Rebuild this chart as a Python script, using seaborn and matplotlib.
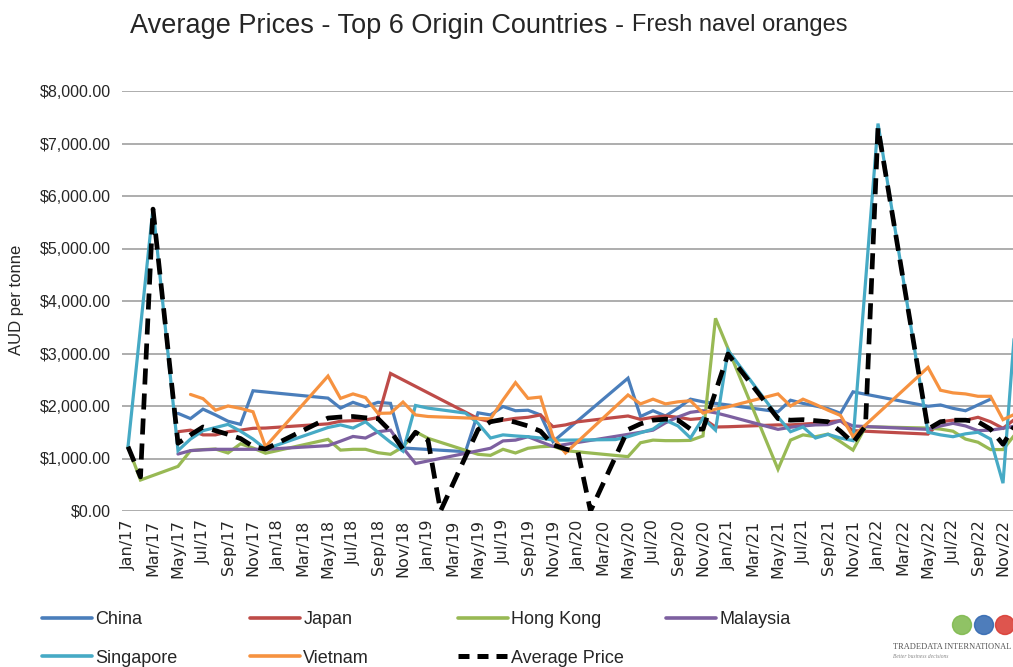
import numpy as np
import pandas as pd
import matplotlib
matplotlib.use("Agg")
import matplotlib.pyplot as plt
import seaborn as sns
from matplotlib.ticker import FuncFormatter, MultipleLocator
from matplotlib.lines import Line2D
from matplotlib.patches import Ellipse

N = np.nan
month_names = ["Jan", "Feb", "Mar", "Apr", "May", "Jun",
               "Jul", "Aug", "Sep", "Oct", "Nov", "Dec"]
years = ["17", "18", "19", "20", "21", "22"]
months = [f"{m}/{y}" for y in years for m in month_names]

china = [
    N, N, N, N, 1860, 1760, 1940, 1830, 1710, 1650, 2290, N,
    N, N, N, N, 2150, 1960, 2070, 1990, 2070, 2050, 1200, N,
    N, N, N, 1130, 1870, 1830, 1990, 1910, 1920, 1830, 1320, N,
    N, N, N, N, 2530, 1800, 1910, 1810, 1960, 2130, 2080, 2050,
    2020, N, N, N, 1890, 2110, 2050, 2000, 1950, 1860, 2270, N,
    N, N, N, N, 1995, 2020, 1955, 1910, 2020, 2130, N, N]
japan = [
    N, N, N, N, 1510, 1540, 1450, 1450, 1510, 1540, 1575, 1580,
    N, N, N, N, 1660, 1710, 1720, 1735, 1780, 2620, N, N,
    N, N, N, N, 1760, 1700, 1730, 1765, 1785, 1830, 1605, 1640,
    1700, N, N, N, 1810, 1745, 1785, 1810, 1785, 1745, 1765, 1600,
    1605, N, N, N, 1640, 1640, 1655, 1670, 1700, 1720, 1530, N,
    N, N, N, N, 1465, 1700, 1730, 1730, 1785, 1700, 1575, 1760]
hong_kong = [
    1225, 590, N, N, 850, 1150, 1170, 1180, 1105, 1280, 1200, 1100,
    N, N, N, N, 1365, 1160, 1175, 1175, 1110, 1080, 1220, 1510,
    1385, N, N, N, 1080, 1060, 1175, 1105, 1195, 1225, 1235, 1150,
    N, N, N, N, 1035, 1300, 1350, 1340, 1340, 1345, 1430, 3670,
    N, N, N, N, 795, 1350, 1450, 1415, 1465, 1320, 1160, 1605,
    N, N, N, N, 1580, 1560, 1520, 1370, 1310, 1170, 1170, 1470]
malaysia = [
    N, N, N, N, 1085, 1150, 1165, 1175, 1175, 1175, 1175, 1175,
    N, N, N, N, 1245, 1330, 1420, 1390, 1510, 1540, 1200, 905,
    N, N, N, N, N, 1195, 1335, 1350, 1415, 1320, 1230, N,
    N, N, N, N, 1460, N, 1540, 1680, 1790, 1880, 1910, 1870,
    1810, N, N, N, 1555, 1595, 1620, 1640, 1645, 1720, 1620, N,
    N, N, N, N, 1555, 1620, 1670, 1620, 1530, 1540, 1575, 1620]
singapore = [
    1225, N, 5770, N, 1150, 1370, 1530, 1590, 1650, 1520, 1370, 1180,
    N, N, N, N, 1590, 1640, 1580, 1700, 1500, 1310, 1140, 2010,
    1960, N, N, 1865, 1670, 1390, 1450, 1430, 1415, 1390, 1350, 1350,
    N, N, N, 1360, 1415, 1490, 1560, 1730, 1620, 1390, 1770, 1540,
    3060, N, N, N, 1790, 1510, 1600, 1390, 1460, 1390, 1340, N,
    7380, N, N, N, 1500, 1450, 1415, 1470, 1500, 1370, 530, 3650]
vietnam = [
    N, N, N, N, N, 2220, 2140, 1920, 2000, 1955, 1890, 1225,
    N, N, N, N, 2570, 2145, 2230, 2160, 1860, 1865, 2075, 1830,
    1800, N, N, N, N, 1755, 2115, 2445, 2145, 2170, 1410, 1105,
    N, N, N, N, 2210, 2040, 2130, 2040, 2080, 2100, 1865, 1940,
    1985, N, N, N, 2230, 2000, 2130, 2030, 1920, 1820, 1420, N,
    N, N, N, N, 2735, 2300, 2250, 2230, 2185, 2185, 1740, 1850]
average = [
    1225, 650, 5750, N, 1290, 1450, 1600, 1530, 1460, 1380, 1230, 1180,
    N, N, N, N, 1770, 1790, 1800, 1775, 1760, 1520, 1180, 1500,
    1350, 0, N, N, 1550, 1700, 1745, 1690, 1620, 1520, 1260, 1180,
    1120, 0, N, N, 1550, 1660, 1730, 1750, 1730, 1560, 1560, 2270,
    2990, N, N, N, 1760, 1730, 1740, 1720, 1700, 1520, 1300, 1620,
    7300, N, N, N, 1560, 1700, 1730, 1730, 1700, 1560, 1270, 1650]

series_names = ["China", "Japan", "Hong Kong", "Malaysia", "Singapore", "Vietnam"]
series_values = [china, japan, hong_kong, malaysia, singapore, vietnam]
colors = ["#4A7EBB", "#BE4B48", "#98B954", "#7D60A0", "#46AAC5", "#F69240"]

W, H = 1013, 667
sns.set_theme(style="white")
plt.rcParams["font.family"] = ["Liberation Sans", "DejaVu Sans"]

fig = plt.figure(figsize=(W / 100, H / 100), dpi=100)
ax = fig.add_axes([121.7 / W, 1 - 511 / H, (W - 121.7) / W, 420 / H])

idx = np.arange(len(months))
for name, vals, col in zip(series_names, series_values, colors):
    df = pd.DataFrame({"m": idx, "v": vals}).dropna()
    sns.lineplot(data=df, x="m", y="v", color=col, lw=2.3, ax=ax,
                 estimator=None, sort=True, solid_joinstyle="miter")
dfa = pd.DataFrame({"m": idx, "v": average}).dropna()
sns.lineplot(data=dfa, x="m", y="v", color="black", lw=3.4, ax=ax,
             estimator=None, sort=True, dashes=False)
ax.lines[-1].set_linestyle((0, (3.4, 1.9)))

ax.set_xlim(-0.504, 70.8)
ax.set_ylim(0, 8000)
ax.yaxis.set_major_locator(MultipleLocator(1000))
ax.yaxis.set_major_formatter(FuncFormatter(lambda v, p: f"${v:,.2f}"))
ax.set_xticks(idx[::2])
ax.set_xticklabels(months[::2], rotation=90, fontsize=11.5,
                   family="DejaVu Sans")
ax.tick_params(axis="y", labelsize=11.5, length=0, pad=8)
ax.tick_params(axis="x", length=0, pad=6)
ax.grid(axis="y", color="#A0A0A0", lw=1.2)
ax.grid(axis="x", visible=False)
for s in ax.spines.values():
    s.set_visible(False)
ax.set_xlabel("")
ax.set_ylabel("")

fig.text(17 / W, 1 - 300 / H, "AUD per tonne", rotation=90, ha="center",
         va="center", fontsize=12)

# title
fig.canvas.draw()
r = fig.canvas.get_renderer()
t1 = fig.text(130 / W, 1 - 33 / H, "Average Prices - Top 6 Origin Countries -",
              fontsize=19.5, va="baseline")
bb = t1.get_window_extent(renderer=r)
fig.text(bb.x1 / W + 8 / W, 1 - 31 / H, "Fresh navel oranges", fontsize=17,
         va="baseline")

# legend (4 columns placed like the original)
handles = {n: Line2D([], [], color=c, lw=2.6) for n, c in zip(series_names, colors)}
handles["Average Price"] = Line2D([], [], color="black", lw=3.6,
                                  linestyle=(0, (2.2, 1.6)))
cols = [(42, ["China", "Singapore"]), (250, ["Japan", "Vietnam"]),
        (458, ["Hong Kong", "Average Price"]), (666, ["Malaysia"])]
for x0, names in cols:
    fig.legend([handles[n] for n in names], names, loc="upper left",
               bbox_to_anchor=(x0 / W, 1 - 611 / H), frameon=False,
               fontsize=13, handlelength=2.75, handletextpad=0.2,
               borderpad=0, borderaxespad=0, labelspacing=1.2)

# logo
for cx, c in [(962, "#7DB84A"), (984, "#2F66B0"), (1005, "#D9372F")]:
    fig.add_artist(Ellipse((cx / W, 1 - 625 / H), 19 / W, 19 / H,
                           transform=fig.transFigure, color=c, alpha=0.85))
fig.text(893 / W, 1 - 647 / H, "TRADEDATA INTERNATIONAL", fontsize=6,
         family="Liberation Serif", va="center", color="#555555")
fig.text(893 / W, 1 - 657 / H, "Better business decisions", fontsize=4,
         family="Liberation Serif", style="italic", va="center", color="#888888")

fig.savefig("out.png", dpi=100)
